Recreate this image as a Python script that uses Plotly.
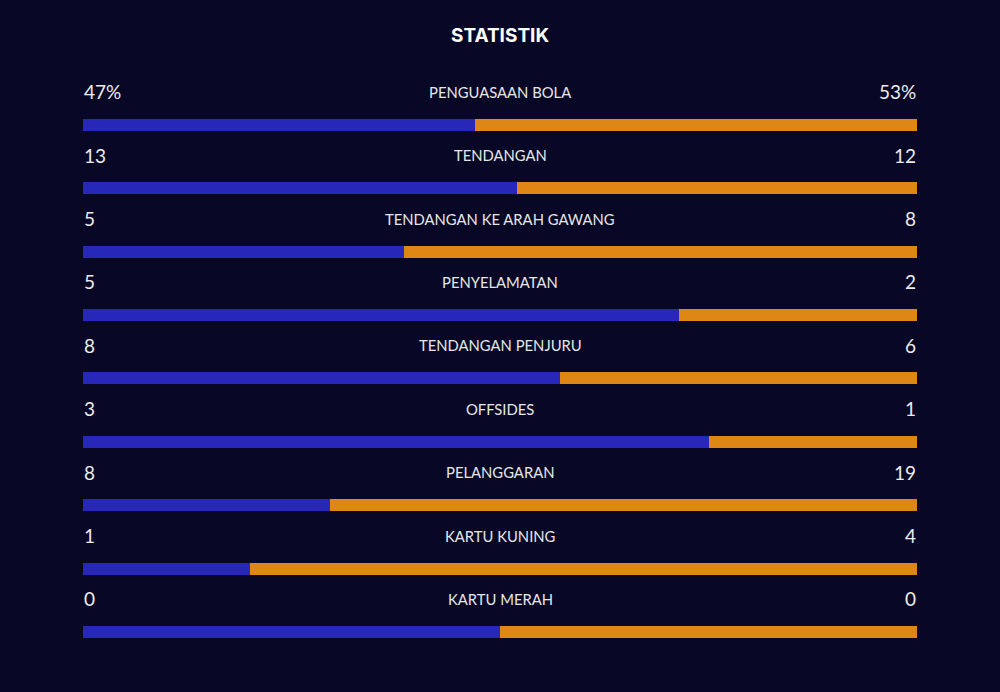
import plotly.graph_objects as go

title = "STATISTIK"
categories = ["PENGUASAAN BOLA", "TENDANGAN", "TENDANGAN KE ARAH GAWANG", "PENYELAMATAN",
              "TENDANGAN PENJURU", "OFFSIDES", "PELANGGARAN", "KARTU KUNING", "KARTU MERAH"]
home_values = [47, 13, 5, 5, 8, 3, 8, 1, 0]
away_values = [53, 12, 8, 2, 6, 1, 19, 4, 0]
units = ["%", "", "", "", "", "", "", "", ""]

BG = "#080826"
BLUE = "#2727b9"
ORANGE = "#df8714"

n = len(categories)
rows = list(range(n))
home_frac = []
away_frac = []
for h, a in zip(home_values, away_values):
    t = h + a
    if t == 0:
        home_frac.append(0.5); away_frac.append(0.5)
    else:
        home_frac.append(h / t); away_frac.append(a / t)

fig = go.Figure()
fig.add_trace(go.Bar(y=rows, x=home_frac, orientation="h", marker=dict(color=BLUE, line=dict(width=0)),
                     width=0.19, hoverinfo="skip", showlegend=False))
fig.add_trace(go.Bar(y=rows, x=away_frac, orientation="h", marker=dict(color=ORANGE, line=dict(width=0)),
                     width=0.19, hoverinfo="skip", showlegend=False))

ann = []
for i in rows:
    yl = i - 0.52
    ann.append(dict(x=0, y=yl, xref="x", yref="y", text=f"{home_values[i]}{units[i]}", showarrow=False,
                    xanchor="left", yanchor="middle", xshift=-1,
                    font=dict(family="Lato", size=19, color="#ececec")))
    ann.append(dict(x=1, y=yl, xref="x", yref="y", text=f"{away_values[i]}{units[i]}", showarrow=False,
                    xanchor="right", yanchor="middle", xshift=1,
                    font=dict(family="Lato", size=19, color="#ececec")))
    ann.append(dict(x=0.5, y=yl, xref="x", yref="y", text=categories[i], showarrow=False,
                    xanchor="center", yanchor="middle", font=dict(family="Lato", size=14.8, color="#e6e6e6")))
ann.append(dict(x=0.5, y=1 + (74 - 36) / 596, xref="paper", yref="paper", text=f"<b>{title}</b>",
                showarrow=False, xanchor="center", yanchor="middle",
                font=dict(family="Inter", size=19, color="#ffffff")))

fig.update_layout(
    width=1000, height=692, barmode="stack", bargap=0,
    paper_bgcolor=BG, plot_bgcolor=BG,
    margin=dict(l=83, r=83, t=74, b=22),
    xaxis=dict(range=[0, 1], visible=False, fixedrange=True),
    yaxis=dict(range=[8.6, -0.8], visible=False, fixedrange=True),
    annotations=ann,
)
fig.write_html("out.html")
